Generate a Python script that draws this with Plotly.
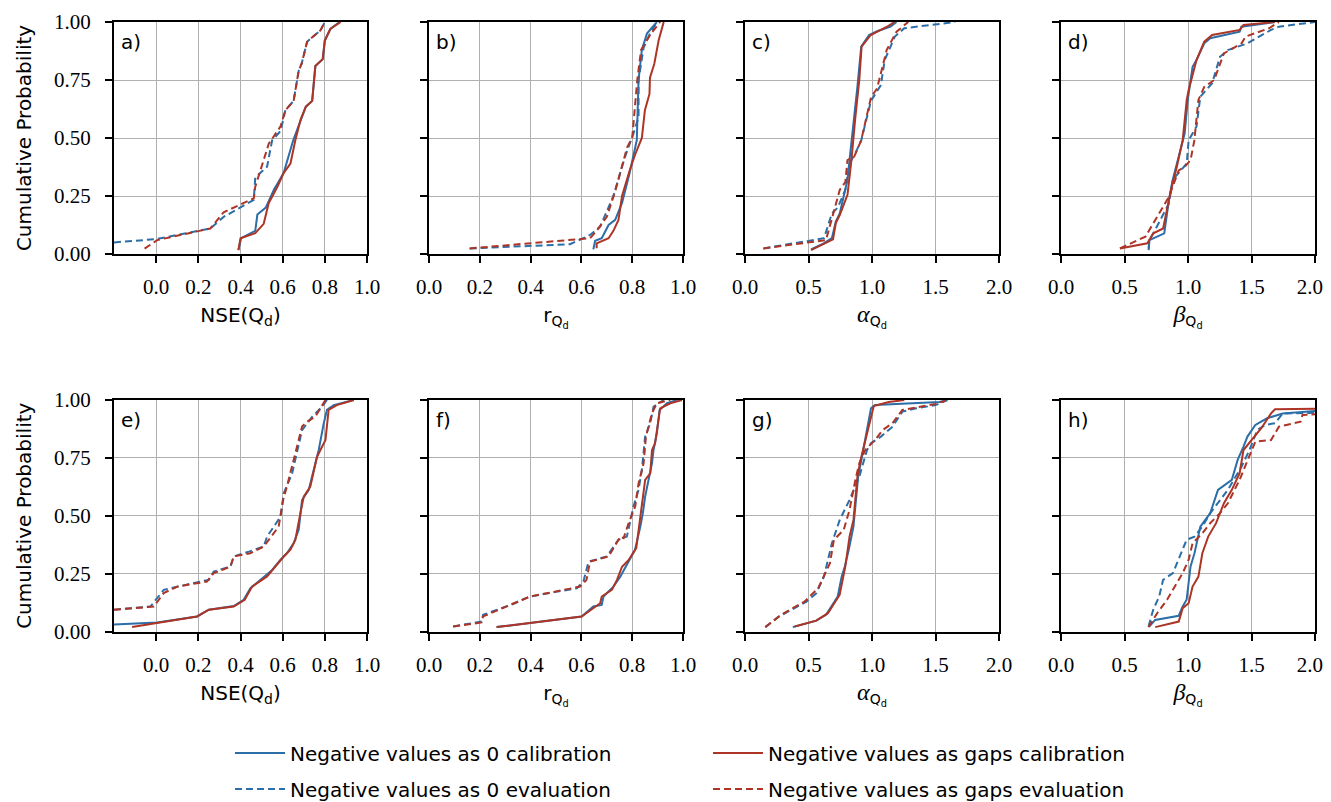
import plotly.graph_objects as go

# ---------------- data ----------------
# Panel a: NSE(Qd), row 1
a_z_cal_x = [0.39, 0.403, 0.47, 0.48, 0.52, 0.56, 0.58, 0.605, 0.65, 0.685, 0.71, 0.74, 0.755, 0.79, 0.80, 0.826, 0.87]
a_z_cal_y = [0.017, 0.068, 0.10, 0.17, 0.20, 0.28, 0.31, 0.35, 0.49, 0.58, 0.635, 0.66, 0.81, 0.84, 0.92, 0.97, 1.0]
a_g_cal_x = [0.39, 0.40, 0.47, 0.51, 0.534, 0.575, 0.605, 0.637, 0.66, 0.685, 0.71, 0.74, 0.755, 0.79, 0.80, 0.826, 0.875]
a_g_cal_y = [0.017, 0.068, 0.09, 0.13, 0.22, 0.29, 0.35, 0.39, 0.49, 0.58, 0.635, 0.66, 0.81, 0.84, 0.92, 0.97, 1.0]
a_z_eva_x = [-0.2, 0.0, 0.257, 0.32, 0.463, 0.47, 0.526, 0.55, 0.59, 0.613, 0.652, 0.676, 0.69, 0.716, 0.78, 0.80]
a_z_eva_y = [0.05, 0.064, 0.11, 0.16, 0.233, 0.33, 0.376, 0.49, 0.53, 0.62, 0.66, 0.79, 0.82, 0.915, 0.965, 1.0]
a_g_eva_x = [-0.055, 0.005, 0.257, 0.32, 0.463, 0.47, 0.534, 0.59, 0.613, 0.652, 0.676, 0.69, 0.716, 0.78, 0.80]
a_g_eva_y = [0.023, 0.06, 0.11, 0.18, 0.24, 0.29, 0.475, 0.55, 0.62, 0.66, 0.79, 0.82, 0.915, 0.965, 1.0]

# Panel b: r(Qd), row 1
b_z_cal_x = [0.647, 0.654, 0.68, 0.707, 0.733, 0.76, 0.79, 0.818, 0.825, 0.838, 0.858, 0.897]
b_z_cal_y = [0.02, 0.057, 0.068, 0.125, 0.147, 0.22, 0.35, 0.49, 0.75, 0.88, 0.95, 1.0]
b_g_cal_x = [0.66, 0.66, 0.707, 0.726, 0.746, 0.76, 0.79, 0.812, 0.838, 0.85, 0.868, 0.87, 0.887, 0.904, 0.924]
b_g_cal_y = [0.025, 0.046, 0.068, 0.10, 0.147, 0.25, 0.36, 0.43, 0.50, 0.62, 0.69, 0.76, 0.82, 0.92, 1.0]
b_z_eva_x = [0.16, 0.555, 0.634, 0.674, 0.726, 0.772, 0.805, 0.825, 0.825, 0.845, 0.87, 0.897]
b_z_eva_y = [0.024, 0.042, 0.082, 0.118, 0.25, 0.42, 0.52, 0.59, 0.75, 0.89, 0.95, 1.0]
b_g_eva_x = [0.16, 0.634, 0.66, 0.70, 0.733, 0.78, 0.80, 0.82, 0.835, 0.874, 0.91]
b_g_eva_y = [0.024, 0.068, 0.10, 0.16, 0.27, 0.46, 0.50, 0.75, 0.88, 0.95, 1.0]

# Panel c: alpha(Qd), row 1
c_z_cal_x = [0.52, 0.62, 0.684, 0.715, 0.746, 0.777, 0.807, 0.823, 0.854, 0.885, 0.915, 0.977, 1.04, 1.146, 1.193]
c_z_cal_y = [0.02, 0.046, 0.068, 0.14, 0.175, 0.247, 0.32, 0.405, 0.55, 0.72, 0.894, 0.944, 0.96, 0.98, 1.0]
c_g_cal_x = [0.52, 0.638, 0.693, 0.715, 0.746, 0.807, 0.838, 0.869, 0.90, 0.918, 0.99, 1.13, 1.177]
c_g_cal_y = [0.017, 0.046, 0.063, 0.133, 0.168, 0.255, 0.405, 0.59, 0.75, 0.894, 0.944, 0.983, 1.0]
c_z_eva_x = [0.145, 0.622, 0.684, 0.73, 0.79, 0.823, 0.869, 0.915, 0.992, 1.07, 1.10, 1.18, 1.254, 1.53, 1.655]
c_z_eva_y = [0.024, 0.068, 0.175, 0.20, 0.276, 0.39, 0.434, 0.49, 0.66, 0.728, 0.836, 0.937, 0.973, 0.99, 1.0]
c_g_eva_x = [0.145, 0.638, 0.746, 0.79, 0.807, 0.86, 0.915, 0.992, 1.04, 1.085, 1.116, 1.193, 1.285]
c_g_eva_y = [0.024, 0.06, 0.276, 0.31, 0.405, 0.42, 0.49, 0.675, 0.714, 0.81, 0.88, 0.958, 1.0]

# Panel d: beta(Qd), row 1
d_z_cal_x = [0.69, 0.696, 0.813, 0.85, 0.88, 0.927, 0.974, 0.998, 1.036, 1.067, 1.128, 1.175, 1.407, 1.42, 1.685]
d_z_cal_y = [0.017, 0.06, 0.089, 0.233, 0.32, 0.42, 0.52, 0.664, 0.807, 0.836, 0.908, 0.93, 0.958, 0.98, 1.0]
d_g_cal_x = [0.464, 0.68, 0.727, 0.804, 0.866, 0.912, 0.958, 0.99, 1.005, 1.067, 1.128, 1.19, 1.407, 1.437, 1.685]
d_g_cal_y = [0.024, 0.046, 0.089, 0.11, 0.276, 0.376, 0.49, 0.664, 0.707, 0.836, 0.915, 0.944, 0.966, 0.987, 1.0]
d_z_eva_x = [0.69, 0.696, 0.727, 0.85, 0.88, 0.99, 1.005, 1.067, 1.097, 1.19, 1.252, 1.314, 1.468, 1.654, 1.716, 2.0]
d_z_eva_y = [0.024, 0.06, 0.089, 0.218, 0.32, 0.39, 0.49, 0.55, 0.678, 0.736, 0.85, 0.879, 0.908, 0.966, 0.98, 1.0]
d_g_eva_x = [0.464, 0.665, 0.85, 0.927, 0.974, 1.02, 1.05, 1.082, 1.128, 1.206, 1.283, 1.422, 1.453, 1.638, 1.716]
d_g_eva_y = [0.024, 0.075, 0.247, 0.36, 0.376, 0.405, 0.49, 0.664, 0.72, 0.75, 0.865, 0.908, 0.937, 0.973, 1.0]

# Panel e: NSE(Qd), row 2
e_z_cal_x = [-0.2, 0.005, 0.194, 0.25, 0.368, 0.415, 0.447, 0.486, 0.526, 0.55, 0.59, 0.62, 0.652, 0.676, 0.692, 0.724, 0.755, 0.771, 0.795, 0.81, 0.842, 0.937]
e_z_cal_y = [0.03, 0.039, 0.065, 0.094, 0.11, 0.137, 0.187, 0.216, 0.245, 0.266, 0.31, 0.338, 0.381, 0.439, 0.568, 0.612, 0.727, 0.784, 0.90, 0.957, 0.978, 1.0]
e_g_cal_x = [-0.114, 0.005, 0.194, 0.25, 0.368, 0.42, 0.455, 0.526, 0.557, 0.605, 0.637, 0.66, 0.684, 0.70, 0.731, 0.763, 0.803, 0.818, 0.857, 0.937]
e_g_cal_y = [0.019, 0.036, 0.065, 0.094, 0.108, 0.137, 0.194, 0.238, 0.273, 0.324, 0.353, 0.396, 0.511, 0.583, 0.626, 0.755, 0.827, 0.957, 0.978, 1.0]
e_z_eva_x = [-0.2, -0.027, 0.036, 0.10, 0.21, 0.25, 0.273, 0.352, 0.368, 0.44, 0.51, 0.526, 0.59, 0.605, 0.645, 0.692, 0.74, 0.787, 0.81]
e_z_eva_y = [0.094, 0.108, 0.18, 0.194, 0.216, 0.223, 0.259, 0.28, 0.324, 0.345, 0.367, 0.41, 0.496, 0.597, 0.683, 0.87, 0.928, 0.971, 1.0]
e_g_eva_x = [-0.2, -0.011, 0.036, 0.10, 0.241, 0.273, 0.352, 0.368, 0.447, 0.51, 0.534, 0.581, 0.602, 0.62, 0.692, 0.716, 0.755, 0.795, 0.803]
e_g_eva_y = [0.094, 0.108, 0.166, 0.194, 0.216, 0.252, 0.28, 0.324, 0.338, 0.367, 0.396, 0.453, 0.568, 0.626, 0.885, 0.906, 0.928, 0.993, 1.0]

# Panel f: r(Qd), row 2
f_z_cal_x = [0.266, 0.601, 0.647, 0.68, 0.687, 0.726, 0.753, 0.779, 0.811, 0.832, 0.842, 0.851, 0.864, 0.878, 0.884, 0.897, 0.908, 0.937, 0.976]
f_z_cal_y = [0.019, 0.065, 0.108, 0.115, 0.151, 0.194, 0.237, 0.288, 0.353, 0.453, 0.511, 0.583, 0.655, 0.727, 0.784, 0.856, 0.957, 0.986, 1.0]
f_g_cal_x = [0.266, 0.601, 0.674, 0.68, 0.72, 0.74, 0.76, 0.786, 0.816, 0.829, 0.851, 0.871, 0.878, 0.89, 0.90, 0.91, 0.95, 0.996]
f_g_cal_y = [0.019, 0.065, 0.122, 0.151, 0.18, 0.223, 0.28, 0.309, 0.36, 0.468, 0.655, 0.683, 0.784, 0.813, 0.90, 0.964, 0.986, 1.0]
f_z_eva_x = [0.095, 0.207, 0.213, 0.338, 0.397, 0.463, 0.582, 0.608, 0.628, 0.70, 0.746, 0.779, 0.792, 0.805, 0.825, 0.838, 0.851, 0.871, 0.884, 0.924]
f_z_eva_y = [0.022, 0.043, 0.072, 0.122, 0.151, 0.165, 0.187, 0.216, 0.302, 0.324, 0.396, 0.41, 0.482, 0.54, 0.612, 0.698, 0.842, 0.90, 0.971, 1.0]
f_g_eva_x = [0.095, 0.207, 0.213, 0.352, 0.397, 0.463, 0.595, 0.62, 0.634, 0.707, 0.753, 0.766, 0.786, 0.812, 0.825, 0.845, 0.854, 0.878, 0.897, 0.95]
f_g_eva_y = [0.022, 0.039, 0.065, 0.129, 0.151, 0.165, 0.194, 0.223, 0.302, 0.324, 0.41, 0.403, 0.468, 0.54, 0.64, 0.727, 0.842, 0.943, 0.986, 1.0]

# Panel g: alpha(Qd), row 2
g_z_cal_x = [0.376, 0.561, 0.638, 0.73, 0.761, 0.786, 0.817, 0.854, 0.869, 0.891, 0.921, 0.952, 0.992, 1.023, 1.531, 1.593]
g_z_cal_y = [0.019, 0.047, 0.072, 0.151, 0.237, 0.281, 0.353, 0.453, 0.54, 0.669, 0.755, 0.842, 0.964, 0.978, 0.991, 1.0]
g_g_cal_x = [0.391, 0.561, 0.653, 0.745, 0.79, 0.823, 0.854, 0.885, 0.91, 0.947, 1.014, 1.131, 1.254]
g_g_cal_y = [0.022, 0.047, 0.079, 0.158, 0.281, 0.41, 0.482, 0.669, 0.741, 0.827, 0.974, 0.991, 1.0]
g_z_eva_x = [0.16, 0.268, 0.484, 0.561, 0.622, 0.684, 0.746, 0.823, 0.90, 0.961, 0.992, 1.07, 1.162, 1.239, 1.347, 1.50, 1.593]
g_z_eva_y = [0.019, 0.065, 0.129, 0.165, 0.237, 0.381, 0.482, 0.568, 0.669, 0.784, 0.813, 0.842, 0.885, 0.95, 0.964, 0.978, 1.0]
g_g_eva_x = [0.16, 0.284, 0.468, 0.576, 0.669, 0.70, 0.777, 0.823, 0.869, 0.90, 0.947, 1.023, 1.085, 1.162, 1.239, 1.50, 1.578]
g_g_eva_y = [0.019, 0.072, 0.129, 0.187, 0.295, 0.396, 0.439, 0.525, 0.655, 0.727, 0.784, 0.827, 0.871, 0.90, 0.957, 0.983, 0.997]

# Panel h: beta(Qd), row 2
h_z_cal_x = [0.696, 0.742, 0.927, 0.958, 0.989, 1.02, 1.051, 1.082, 1.097, 1.175, 1.236, 1.345, 1.391, 1.437, 1.468, 1.53, 1.623, 1.746, 2.0]
h_z_cal_y = [0.022, 0.05, 0.068, 0.108, 0.137, 0.281, 0.338, 0.424, 0.453, 0.511, 0.612, 0.655, 0.741, 0.799, 0.842, 0.892, 0.921, 0.942, 0.953]
h_g_cal_x = [0.742, 0.927, 0.958, 1.005, 1.036, 1.082, 1.113, 1.159, 1.221, 1.283, 1.345, 1.406, 1.437, 1.515, 1.577, 1.654, 1.685, 2.0]
h_g_cal_y = [0.019, 0.043, 0.101, 0.122, 0.194, 0.237, 0.338, 0.41, 0.468, 0.554, 0.612, 0.683, 0.784, 0.835, 0.878, 0.942, 0.96, 0.962]
h_z_eva_x = [0.689, 0.726, 0.773, 0.804, 0.881, 0.989, 1.051, 1.113, 1.175, 1.252, 1.314, 1.422, 1.484, 1.546, 1.607, 1.685, 1.746, 2.0]
h_z_eva_y = [0.022, 0.094, 0.151, 0.223, 0.252, 0.396, 0.41, 0.453, 0.511, 0.568, 0.612, 0.712, 0.784, 0.871, 0.892, 0.90, 0.942, 0.945]
h_g_eva_x = [0.689, 0.757, 0.835, 0.896, 0.958, 1.005, 1.036, 1.113, 1.175, 1.252, 1.314, 1.406, 1.484, 1.53, 1.654, 1.716, 1.886, 1.901, 2.0]
h_g_eva_y = [0.019, 0.079, 0.137, 0.194, 0.252, 0.31, 0.381, 0.424, 0.468, 0.511, 0.554, 0.655, 0.755, 0.82, 0.827, 0.885, 0.906, 0.935, 0.938]

panel_letters = ["a)", "b)", "c)", "d)", "e)", "f)", "g)", "h)"]
y_ticks = [0.0, 0.25, 0.5, 0.75, 1.0]
y_ticklabels = ["0.00", "0.25", "0.50", "0.75", "1.00"]
nse_ticks = [0.0, 0.2, 0.4, 0.6, 0.8, 1.0]
r_ticks = [0.0, 0.2, 0.4, 0.6, 0.8, 1.0]
ab_ticks = [0.0, 0.5, 1.0, 1.5, 2.0]
series_names = ["Negative values as 0 calibration", "Negative values as gaps calibration",
                "Negative values as 0 evaluation", "Negative values as gaps evaluation"]

# ---------------- styling ----------------
OFF = 8                      # page body margin that shifts the figure
W, H = 1331 - OFF, 802 - OFF
BLUE = "#2b6ea8"
RED = "#ae3426"
SERIF = "Liberation Serif"
SANS = "DejaVu Sans"
FS = 20
TFS = 21
NBSP = "\u00a0"

x_titles = [
    "NSE(Q<sub>d</sub>)",
    "r<sub>Q<sub>d</sub></sub>",
    "<span style='font-family:Liberation Serif;font-size:24px'><i>α</i></span><sub>Q<sub>d</sub></sub>",
    "<span style='font-family:Liberation Serif;font-size:24px'><i>β</i></span><sub>Q<sub>d</sub></sub>",
]
x_ranges = [[-0.2, 1.0], [0.0, 1.0], [0.0, 2.0], [0.0, 2.0]]
x_tickvals = [nse_ticks, r_ticks, ab_ticks, ab_ticks]
x_ticktext = [[f"{v:.1f}" for v in t] for t in x_tickvals]
# keep the right-most label of the last column inside the visible page
x_ticktext[3] = x_ticktext[3][:-1] + [x_ticktext[3][-1] + NBSP * 2]

# target page-pixel positions of the axes boxes
col_px = [(114, 367), (429, 683), (745, 999), (1061, 1315)]
row_px = [(22, 254), (400, 631.5)]

panels = [
    [(a_z_cal_x, a_z_cal_y), (a_g_cal_x, a_g_cal_y), (a_z_eva_x, a_z_eva_y), (a_g_eva_x, a_g_eva_y)],
    [(b_z_cal_x, b_z_cal_y), (b_g_cal_x, b_g_cal_y), (b_z_eva_x, b_z_eva_y), (b_g_eva_x, b_g_eva_y)],
    [(c_z_cal_x, c_z_cal_y), (c_g_cal_x, c_g_cal_y), (c_z_eva_x, c_z_eva_y), (c_g_eva_x, c_g_eva_y)],
    [(d_z_cal_x, d_z_cal_y), (d_g_cal_x, d_g_cal_y), (d_z_eva_x, d_z_eva_y), (d_g_eva_x, d_g_eva_y)],
    [(e_z_cal_x, e_z_cal_y), (e_g_cal_x, e_g_cal_y), (e_z_eva_x, e_z_eva_y), (e_g_eva_x, e_g_eva_y)],
    [(f_z_cal_x, f_z_cal_y), (f_g_cal_x, f_g_cal_y), (f_z_eva_x, f_z_eva_y), (f_g_eva_x, f_g_eva_y)],
    [(g_z_cal_x, g_z_cal_y), (g_g_cal_x, g_g_cal_y), (g_z_eva_x, g_z_eva_y), (g_g_eva_x, g_g_eva_y)],
    [(h_z_cal_x, h_z_cal_y), (h_g_cal_x, h_g_cal_y), (h_z_eva_x, h_z_eva_y), (h_g_eva_x, h_g_eva_y)],
]
styles = [
    dict(color=BLUE, dash="solid"),
    dict(color=RED, dash="solid"),
    dict(color=BLUE, dash="7px,4px"),
    dict(color=RED, dash="7px,4px"),
]
draw_order = [0, 2, 1, 3]
legend_of = ["legend", "legend", "legend2", "legend2"]

fig = go.Figure()
layout = dict(
    width=W, height=H,
    margin=dict(l=0, r=0, t=0, b=0, autoexpand=False),
    paper_bgcolor="white", plot_bgcolor="white",
    font=dict(family=SANS, size=FS, color="black"),
    showlegend=True,
)
annotations = []

for p in range(8):
    r, c = divmod(p, 4)
    idx = p + 1
    xa = "xaxis" if idx == 1 else f"xaxis{idx}"
    ya = "yaxis" if idx == 1 else f"yaxis{idx}"
    xr = "x" if idx == 1 else f"x{idx}"
    yr = "y" if idx == 1 else f"y{idx}"
    x0, x1 = [v - OFF for v in col_px[c]]
    y0, y1 = [v - OFF for v in row_px[r]]
    layout[xa] = dict(
        domain=[x0 / W, x1 / W], anchor=yr, range=x_ranges[c], automargin=False,
        tickmode="array", tickvals=x_tickvals[c], ticktext=x_ticktext[c],
        tickfont=dict(family=SERIF, size=TFS), ticks="outside", ticklen=7, tickwidth=1.5,
        tickcolor="black", showline=True, linecolor="black", linewidth=2, mirror=True,
        showgrid=True, gridcolor="#b0b0b0", gridwidth=1, zeroline=False,
        ticklabelstandoff=6, ticklabeloverflow="allow",
        title=dict(text=x_titles[c], font=dict(family=SANS, size=FS), standoff=10),
    )
    layout[ya] = dict(
        domain=[1 - y1 / H, 1 - y0 / H], anchor=xr, range=[0, 1], automargin=False,
        tickmode="array", tickvals=y_ticks,
        ticktext=y_ticklabels if c == 0 else [""] * 5,
        showticklabels=(c == 0),
        tickfont=dict(family=SERIF, size=TFS), ticks="outside", ticklen=7, tickwidth=1.5,
        tickcolor="black", showline=True, linecolor="black", linewidth=2, mirror=True,
        showgrid=True, gridcolor="#b0b0b0", gridwidth=1, zeroline=False,
        ticklabelstandoff=10, ticklabeloverflow="allow",
        title=dict(text="Cumulative Probability" if c == 0 else "",
                   font=dict(family=SANS, size=FS), standoff=17),
    )
    for k in draw_order:
        xs, ys = panels[p][k]
        fig.add_trace(go.Scatter(
            x=xs, y=ys, mode="lines", xaxis=xr, yaxis=yr,
            line=dict(color=styles[k]["color"], dash=styles[k]["dash"], width=2),
            name=series_names[k], showlegend=(p == 0), legend=legend_of[k],
            legendrank=k, cliponaxis=True,
        ))
    annotations.append(dict(
        text=panel_letters[p], xref=f"{xr} domain", yref=f"{yr} domain",
        x=0.02, y=0.975, xanchor="left", yanchor="top", showarrow=False,
        font=dict(family=SANS, size=FS),
    ))

leg_common = dict(orientation="h", entrywidth=413, entrywidthmode="pixels",
                  xanchor="left", yanchor="middle", font=dict(family=SANS, size=FS),
                  bgcolor="rgba(0,0,0,0)", itemwidth=50, traceorder="normal")
layout["legend"] = dict(x=222 / W, y=1 - (753 - OFF) / H, **leg_common)
layout["legend2"] = dict(x=222 / W, y=1 - (789 - OFF) / H, **leg_common)
layout["annotations"] = annotations
fig.update_layout(**layout)
fig.write_html("out.html")
